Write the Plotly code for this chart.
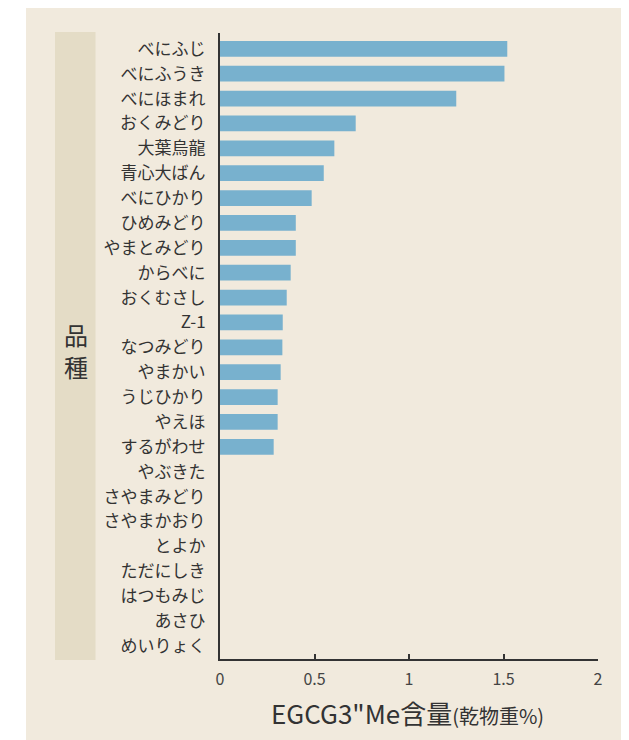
import plotly.graph_objects as go

categories = ["べにふじ", "べにふうき", "べにほまれ", "おくみどり", "大葉烏龍", "青心大ばん",
              "べにひかり", "ひめみどり", "やまとみどり", "からべに", "おくむさし", "Z-1",
              "なつみどり", "やまかい", "うじひかり", "やえほ", "するがわせ", "やぶきた",
              "さやまみどり", "さやまかおり", "とよか", "ただにしき", "はつもみじ", "あさひ", "めいりょく"]
values = [1.52, 1.505, 1.25, 0.718, 0.605, 0.549, 0.485, 0.401, 0.401, 0.374, 0.353, 0.332,
          0.330, 0.321, 0.305, 0.305, 0.284, 0, 0, 0, 0, 0, 0, 0, 0]
x_ticks = [0, 0.5, 1, 1.5, 2]
x_ticktext = ["0", "0.5", "1", "1.5", "2"]
axis_title = "EGCG3\"Me含量"
axis_unit = "(乾物重%)"
group_label = ["品", "種"]

FONT = "Noto Sans CJK JP"
OFF = 8  # page body margin offset
W, H = 629, 740
L, R, T = 220 - OFF, 39, 33 - OFF
B = H - (659 - OFF)
pw, ph = W - L - R, H - T - B

def px_x(p):
    return (p - OFF - L) / pw

def px_y(p):
    return (H - B - (p - OFF)) / ph

fig = go.Figure(go.Bar(
    x=values, y=categories, orientation="h",
    marker=dict(color="#78B1CE", line=dict(width=0)),
    width=0.63, hoverinfo="x+y",
))

shapes = [
    dict(type="rect", xref="paper", yref="paper", x0=px_x(26), x1=px_x(660), y0=px_y(770), y1=px_y(8),
         fillcolor="#F1EADD", line=dict(width=0), layer="below"),
    dict(type="rect", xref="paper", yref="paper", x0=px_x(55), x1=px_x(95.5), y0=px_y(660), y1=px_y(32),
         fillcolor="#E4DCC6", line=dict(width=0), layer="below"),
]

annotations = [
    dict(xref="paper", yref="paper", x=px_x(75.5), y=px_y(334), text=group_label[0], showarrow=False,
         font=dict(family=FONT, size=24, color="#333333"), xanchor="center", yanchor="middle"),
    dict(xref="paper", yref="paper", x=px_x(75.5), y=px_y(366), text=group_label[1], showarrow=False,
         font=dict(family=FONT, size=24, color="#333333"), xanchor="center", yanchor="middle"),
    dict(xref="paper", yref="paper", x=px_x(407), y=px_y(713),
         text=axis_title + "<span style='font-size:20px'>" + axis_unit + "</span>", showarrow=False,
         font=dict(family=FONT, size=26, color="#333333"), xanchor="center", yanchor="middle"),
]

fig.update_layout(
    width=W, height=H,
    margin=dict(l=L, r=R, t=T, b=B, pad=0),
    paper_bgcolor="white", plot_bgcolor="rgba(0,0,0,0)",
    showlegend=False,
    shapes=shapes, annotations=annotations,
    font=dict(family=FONT, color="#333333"),
    xaxis=dict(range=[0, 2], tickvals=x_ticks, ticktext=x_ticktext, showgrid=False, zeroline=False,
               showline=True, linecolor="#333333", linewidth=2, ticks="inside", ticklen=5,
               tickwidth=1.5, tickcolor="#333333", tickfont=dict(family=FONT, size=16, color="#444444"),
               ticklabelstandoff=5, fixedrange=True),
    yaxis=dict(type="category", categoryorder="array", categoryarray=categories,
               range=[24.53, -0.635], showgrid=False, zeroline=False, showline=True,
               linecolor="#333333", linewidth=2, ticks="", ticklabelstandoff=9,
               tickfont=dict(family=FONT, size=17, color="#333333"), fixedrange=True),
)

fig.write_html("out.html")
